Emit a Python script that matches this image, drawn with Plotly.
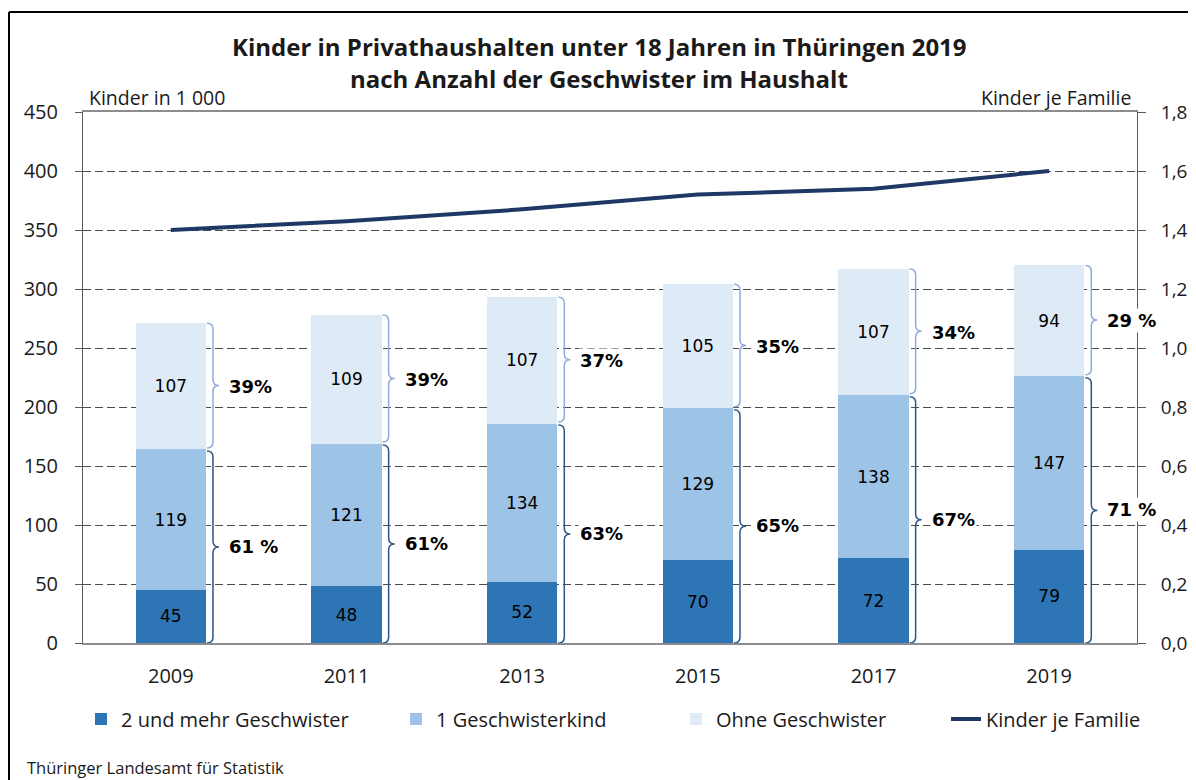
import plotly.graph_objects as go

years = ["2009", "2011", "2013", "2015", "2017", "2019"]
zwei_mehr = [45, 48, 52, 70, 72, 79]
ein_kind = [119, 121, 134, 129, 138, 147]
ohne = [107, 109, 107, 105, 107, 94]
kinder_je_familie = [1.40, 1.43, 1.47, 1.52, 1.54, 1.60]
pct_mit_labels = ["61 %", "61%", "63%", "65%", "67%", "71 %"]
pct_ohne_labels = ["39%", "39%", "37%", "35%", "34%", "29 %"]

# page geometry (pixels in the 1196x780 window; page body has an 8px margin)
OFF = 8
FIG_W, FIG_H = 1196 - OFF, 780 - OFF
L, R, T, B = 83, 1137, 112, 643
W, H = R - L, B - T
def px(x):
    return (x - L) / W
def py(y):
    return (B - y) / H
def cx(x):
    return (x - OFF) / FIG_W
def cy(y):
    return 1 - (y - OFF) / FIG_H

idx = list(range(len(years)))
BAR_W = 0.4
YMAX = 450
dxp = len(years) / W        # data units per pixel (x)
dyp = YMAX / H              # data units per pixel (y)

C_DARK = "#2E75B6"
C_MID = "#9DC3E6"
C_LIGHT = "#DEEBF7"
C_LINE = "#1F3864"
TXT = "#1a1a1a"
FONT = "Open Sans"
VAL_FONT = "DejaVu Sans"

fig = go.Figure()
fig.add_trace(go.Bar(x=idx, y=zwei_mehr, name="2 und mehr Geschwister", marker_color=C_DARK,
                     width=BAR_W, text=zwei_mehr, legend="legend", showlegend=True))
fig.add_trace(go.Bar(x=idx, y=ein_kind, name="1 Geschwisterkind", marker_color=C_MID,
                     width=BAR_W, text=ein_kind, legend="legend2", showlegend=True))
fig.add_trace(go.Bar(x=idx, y=ohne, name="Ohne Geschwister", marker_color=C_LIGHT,
                     width=BAR_W, text=ohne, legend="legend3", showlegend=True))
fig.update_traces(selector=dict(type="bar"), textposition="inside", insidetextanchor="middle",
                  textangle=0, textfont=dict(family=VAL_FONT, size=17, color="black"),
                  marker_line_width=0)
fig.add_trace(go.Scatter(x=idx, y=kinder_je_familie, name="Kinder je Familie", mode="lines",
                         line=dict(color=C_LINE, width=4), yaxis="y2", legend="legend4",
                         showlegend=True))

def brace(xe, ytop, ybot):
    xm = xe + 6 * dxp
    xt = xe + 12 * dxp
    r = 6 * dyp
    ym = (ytop + ybot) / 2
    return (f"M {xe},{ytop} Q {xm},{ytop} {xm},{ytop - r} L {xm},{ym + r} "
            f"Q {xm},{ym} {xt},{ym} Q {xm},{ym} {xm},{ym - r} L {xm},{ybot + r} "
            f"Q {xm},{ybot} {xe},{ybot}")

shapes = []
annotations = []
for i in idx:
    xe = i + BAR_W / 2 + 1 * dxp
    low_top = zwei_mehr[i] + ein_kind[i]
    total = low_top + ohne[i]
    shapes.append(dict(type="path", xref="x", yref="y", path=brace(xe, total, low_top + 1.5 * dyp),
                       line=dict(color="#8EA9DB", width=1.5)))
    shapes.append(dict(type="path", xref="x", yref="y", path=brace(xe, low_top - 1.5 * dyp, 0),
                       line=dict(color="#2E5583", width=1.5)))
    for lab, ymid in ((pct_ohne_labels[i], (total + low_top) / 2), (pct_mit_labels[i], low_top / 2)):
        annotations.append(dict(x=xe + 12 * dxp, y=ymid, xref="x", yref="y", text=f"<b>{lab}</b>",
                                showarrow=False, xanchor="left", yanchor="middle", xshift=8,
                                bgcolor="white", borderpad=1,
                                font=dict(family=VAL_FONT, size=18, color="black")))

# frame (left and top border)
shapes.append(dict(type="line", xref="paper", yref="paper", x0=px(9), x1=px(1210), y0=py(12), y1=py(12),
                   line=dict(color="black", width=2)))
shapes.append(dict(type="line", xref="paper", yref="paper", x0=px(9), x1=px(9), y0=py(12), y1=py(800),
                   line=dict(color="black", width=2)))

annotations += [
    dict(x=px(599), y=py(46), xref="paper", yref="paper",
         text="<b>Kinder in Privathaushalten unter 18 Jahren in Thüringen 2019</b>",
         showarrow=False, xanchor="center", yanchor="middle", font=dict(family=FONT, size=24, color=TXT)),
    dict(x=px(599), y=py(78), xref="paper", yref="paper",
         text="<b>nach Anzahl der Geschwister im Haushalt</b>",
         showarrow=False, xanchor="center", yanchor="middle", font=dict(family=FONT, size=24, color=TXT)),
    dict(x=px(87), y=py(98), xref="paper", yref="paper", text="Kinder in 1 000", showarrow=False,
         xanchor="left", yanchor="middle", font=dict(family=FONT, size=19.5, color=TXT)),
    dict(x=px(1133), y=py(98), xref="paper", yref="paper", text="Kinder je Familie", showarrow=False,
         xanchor="right", yanchor="middle", font=dict(family=FONT, size=19.5, color=TXT)),
    dict(x=px(25), y=py(767), xref="paper", yref="paper", text="Thüringer Landesamt für Statistik",
         showarrow=False, xanchor="left", yanchor="middle", font=dict(family=FONT, size=16.5, color=TXT)),
]

leg_common = dict(orientation="h", yanchor="middle", y=cy(719), xanchor="left",
                  xref="container", yref="container", visible=True,
                  font=dict(family=FONT, size=20, color=TXT), bgcolor="rgba(0,0,0,0)")

fig.update_layout(
    width=FIG_W, height=FIG_H,
    margin=dict(l=L - OFF, r=OFF + FIG_W - R, t=T - OFF, b=OFF + FIG_H - B, autoexpand=False),
    paper_bgcolor="white", plot_bgcolor="white",
    barmode="stack", separators=", ", showlegend=True,
    font=dict(family=FONT, size=20, color=TXT),
    xaxis=dict(range=[-0.5, 5.5], tickvals=idx, ticktext=years, showgrid=False, zeroline=False,
               showline=True, linecolor="#8c8c8c", linewidth=2, mirror=True, ticks="",
               ticklabelstandoff=14, tickfont=dict(size=20)),
    yaxis=dict(range=[0, YMAX], dtick=50, showgrid=True, gridcolor="#4d4d4d", gridwidth=1,
               griddash="8px,4px", zeroline=False, showline=True, linecolor="#595959", linewidth=1,
               ticks="outside", ticklen=7, tickcolor="#595959", ticklabelstandoff=13,
               tickfont=dict(size=20)),
    yaxis2=dict(range=[0, 1.8], dtick=0.2, tickformat=".1f", overlaying="y", side="right",
                showgrid=False, zeroline=False, showline=True, linecolor="#595959", linewidth=1,
                ticks="outside", ticklen=8, tickcolor="#595959", ticklabelstandoff=11,
                tickfont=dict(size=19)),
    legend=dict(x=cx(122 - 41), **leg_common),
    legend2=dict(x=cx(437 - 41), **leg_common),
    legend3=dict(x=cx(717 - 41), **leg_common),
    legend4=dict(x=cx(987 - 41), **leg_common),
    shapes=shapes, annotations=annotations,
)

fig.write_html("out.html")
